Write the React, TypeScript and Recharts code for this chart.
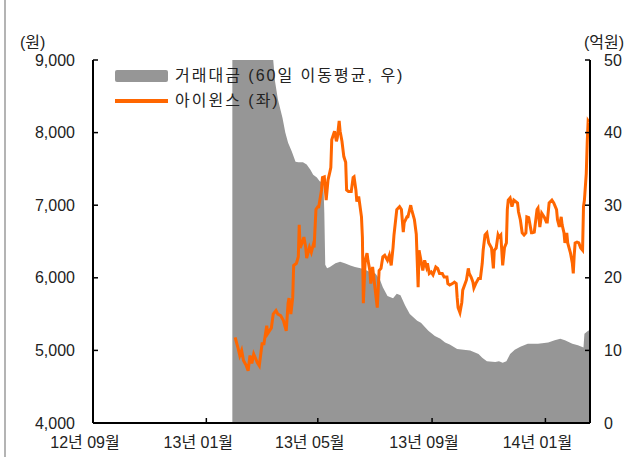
import React from "react";
import { Area, ComposedChart, Legend, Line, XAxis, YAxis } from "recharts";

// x positions are days counted from 2012-09-01
const tickDays = [0, 122, 242, 365, 487];
const tickLabels = ["12년 09월", "13년 01월", "13년 05월", "13년 09월", "14년 01월"];
const leftTicks = [4000, 5000, 6000, 7000, 8000, 9000];
const rightTicks = [0, 10, 20, 30, 40, 50];

// 아이윈스 주가 (원, 좌)
const priceDays = [
	153, 156, 158, 160, 162, 165, 167, 169, 171, 173, 177, 179, 182, 184, 187, 188, 192, 194, 197, 199,
	202, 205, 208, 210, 211, 213, 215, 216, 219, 221, 222, 223, 225, 227, 229, 230, 233, 235, 237, 238,
	240, 242, 243, 246, 247, 249, 251, 253, 255, 256, 257, 260, 262, 263, 265, 266, 268, 270, 272, 273,
	275, 278, 280, 281, 283, 284, 286, 289, 290, 291, 293, 295, 296, 298, 299, 301, 303, 306, 308, 310,
	312, 314, 317, 319, 321, 323, 324, 327, 330, 332, 334, 335, 338, 339, 342, 343, 346, 348, 350, 351,
	353, 355, 357, 359, 360, 362, 364, 366, 369, 371, 373, 376, 378, 381, 382, 384, 387, 389, 391, 392,
	393, 395, 397, 398, 402, 404, 405, 407, 409, 410, 412, 415, 417, 419, 420, 422, 424, 426, 429, 431,
	432, 434, 436, 437, 439, 440, 441, 443, 445, 446, 447, 449, 451, 453, 457, 458, 460, 462, 464, 466,
	467, 469, 472, 473, 475, 478, 479, 481, 483, 486, 488, 489, 491, 494, 496, 499, 500, 502, 504, 505,
	507, 508, 510, 511, 514, 516, 517, 518, 519, 521, 523, 525, 527, 528, 529, 531, 532, 533, 534,
];
const priceWon = [
	5180, 5040, 4930, 5000, 4860, 4790, 4720, 4930, 4820, 4950, 4830, 4790, 5090, 5090, 5340, 5230, 5310, 5500, 5550, 5500,
	5480, 5410, 5270, 5650, 5720, 5500, 5730, 6170, 6200, 6290, 6730, 6410, 6480, 6560, 6420, 6270, 6420, 6350, 6450, 6420,
	6940, 6980, 6980, 7210, 7380, 7390, 7070, 7350, 7460, 7520, 7900, 8020, 7880, 7930, 8160, 8020, 7880, 7670, 7590, 7210,
	7190, 7190, 7380, 7390, 7210, 7050, 7120, 6840, 6560, 5650, 6240, 6340, 6240, 6100, 5920, 6150, 5920, 5590, 6100, 6130,
	6290, 6310, 6240, 6310, 6170, 6420, 6590, 6940, 6980, 6940, 6630, 6760, 6840, 6840, 7000, 6940, 6800, 6600, 5870, 6380,
	6240, 6100, 6240, 6150, 6200, 6060, 6080, 6040, 6150, 6130, 6060, 6060, 6010, 6010, 5920, 5900, 5920, 5940, 5920, 5730,
	5590, 5520, 5660, 5830, 5970, 6130, 6060, 6010, 5940, 5860, 5920, 5990, 5990, 6200, 6380, 6590, 6620, 6480, 6410, 6130,
	6380, 6410, 6590, 6560, 6590, 6380, 6170, 6420, 6480, 6940, 7070, 7100, 6980, 7070, 7030, 6910, 6800, 6620, 6590, 6620,
	6840, 6830, 6620, 6620, 6630, 6940, 6960, 6700, 6890, 6830, 6770, 6770, 7030, 7070, 7030, 6940, 6800, 6700, 6840, 6730,
	6620, 6480, 6620, 6480, 6340, 6200, 6060, 6310, 6480, 6490, 6480, 6410, 6380, 6980, 7070, 7440, 7860, 8160, 8140,
];

// 거래대금 60일 이동평균 (억원, 우)
const amountDays = [
	150, 164, 178, 191, 194, 196, 199, 204, 207, 210, 214, 218, 221, 226, 230, 234, 237, 241, 244, 248,
	249, 250, 252, 255, 261, 266, 271, 277, 282, 288, 293, 298, 304, 309, 312, 317, 323, 327, 331, 336,
	341, 349, 353, 361, 368, 374, 379, 384, 392, 399, 406, 415, 419, 424, 433, 437, 441, 445, 449, 454,
	460, 468, 479, 490, 497, 503, 508, 516, 522, 528, 529, 533, 535,
];
const amountEok = [
	68, 66, 60, 53, 50, 47, 44.6, 42, 40, 38.6, 37.4, 36, 35.9, 35.9, 35.6, 34.9, 34.2, 33.8, 33.3, 33.1,
	29, 21.8, 21.3, 21.5, 22, 22.2, 22, 21.7, 21.5, 21.3, 21.1, 20.8, 20.6, 19.7, 18.7, 17.5, 17.2, 17.8, 17.6, 16.2,
	15, 14.1, 13.8, 12.7, 12, 11.6, 11.1, 10.8, 10.2, 10.1, 10, 9.5, 9, 8.5, 8.4, 8.5, 8.3, 8.5, 9.5, 10.1,
	10.5, 10.9, 10.9, 11.1, 11.4, 11.6, 11.4, 10.9, 10.7, 10.4, 12.3, 12.7, 12.8,
];

const priceData = priceDays.map((day, i) => ({ day, price: priceWon[i] }));
const amountData = amountDays.map((day, i) => ({ day, amount: amountEok[i] }));

const font = '"Liberation Sans", "Noto Sans CJK KR", sans-serif';
const textColor = "#222";

const XTick = ({ x, y, payload }: any) => (
	<text x={x - 8} y={y} dy="0.71em" textAnchor="middle" fill={textColor} fontSize={16} fontFamily={font}>
		{tickLabels[tickDays.indexOf(payload.value)]}
	</text>
);

const renderLegend = () => (
	<div style={{ fontFamily: font, fontSize: 16, color: textColor, lineHeight: "25px", letterSpacing: 2 }}>
		<div style={{ display: "flex", alignItems: "center", whiteSpace: "nowrap" }}>
			<span style={{ display: "inline-block", width: 53, height: 12, background: "#969696", borderRadius: 2, marginRight: 7 }} />
			거래대금 (60일 이동평균, 우)
		</div>
		<div style={{ display: "flex", alignItems: "center", whiteSpace: "nowrap" }}>
			<span style={{ display: "inline-block", width: 53, height: 4, background: "#ff6600", marginRight: 7 }} />
			아이윈스 (좌)
		</div>
	</div>
);

export default function App() {
	return (
		<div style={{ position: "absolute", left: 0, top: 0, width: 631, height: 457, background: "#fff", fontFamily: font }}>
			<div style={{ position: "absolute", left: 4, top: 0, width: 2, height: 457, background: "#b4b4b4" }} />
			<div style={{ position: "absolute", left: 20, top: 35, fontSize: 16, lineHeight: "16px", color: textColor }}>(원)</div>
			<div style={{ position: "absolute", left: 584, top: 35, fontSize: 16, lineHeight: "16px", color: textColor }}>(억원)</div>
			<ComposedChart width={631} height={457} margin={{ top: 60, right: 0, bottom: 0, left: 0 }}>
				<XAxis
					dataKey="day"
					type="number"
					domain={[0, 535]}
					ticks={tickDays}
					allowDataOverflow
					height={34}
					tickSize={-5}
					tickMargin={19}
					tick={<XTick />}
					axisLine={{ stroke: "#000", strokeWidth: 2 }}
					tickLine={{ stroke: "#000", strokeWidth: 1.5 }}
				/>
				<YAxis
					yAxisId="left"
					domain={[4000, 9000]}
					ticks={leftTicks}
					width={93}
					tickSize={-5}
					tickMargin={23}
					tickFormatter={(v: number) => v.toLocaleString("en-US")}
					tick={{ fill: textColor, fontSize: 16, fontFamily: font }}
					axisLine={{ stroke: "#000", strokeWidth: 2 }}
					tickLine={{ stroke: "#000", strokeWidth: 1.5 }}
				/>
				<YAxis
					yAxisId="right"
					orientation="right"
					domain={[0, 50]}
					ticks={rightTicks}
					allowDataOverflow
					width={41}
					tickSize={-5}
					tickMargin={19}
					tick={{ fill: textColor, fontSize: 16, fontFamily: font, textAnchor: "start" }}
					axisLine={{ stroke: "#000", strokeWidth: 2 }}
					tickLine={{ stroke: "#000", strokeWidth: 1.5 }}
				/>
				<Legend
					layout="horizontal"
					verticalAlign="middle"
					align="center"
					content={renderLegend}
					wrapperStyle={{ left: 115, top: 63, width: 360 }}
				/>
				<Area
					yAxisId="right"
					data={amountData}
					dataKey="amount"
					type="linear"
					stroke="none"
					fill="#969696"
					fillOpacity={1}
					isAnimationActive={false}
				/>
				<Line
					yAxisId="left"
					data={priceData}
					dataKey="price"
					type="linear"
					stroke="#ff6600"
					strokeWidth={3}
					dot={false}
					isAnimationActive={false}
				/>
			</ComposedChart>
		</div>
	);
}
